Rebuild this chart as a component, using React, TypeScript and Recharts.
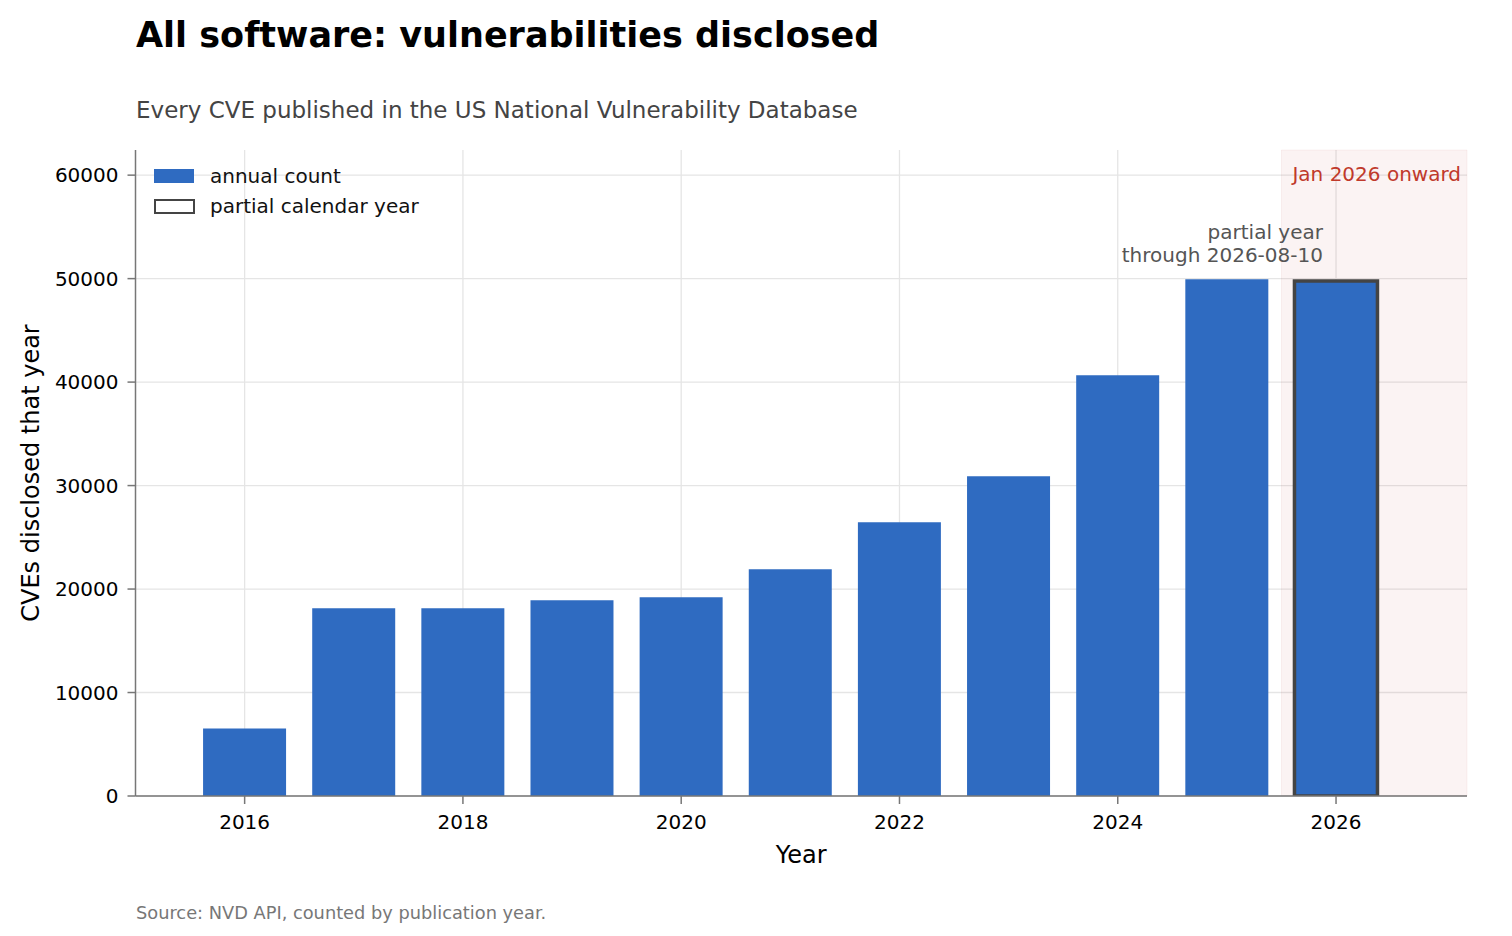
import React from "react"
import {
  BarChart,
  Bar,
  XAxis,
  YAxis,
  CartesianGrid,
  ReferenceArea,
  LabelList,
  Cell,
} from "recharts"

const FONT = "'DejaVu Sans', sans-serif"
const BLUE = "#2f6bc1"
const RED = "#c0392b"
const AXIS_GRAY = "#777777"

const YEARS = [2016, 2017, 2018, 2019, 2020, 2021, 2022, 2023, 2024, 2025, 2026]
const CVE_COUNTS = [6515, 18145, 18140, 18915, 19205, 21915, 26455, 30905, 40665, 49945, 49780]
const PARTIAL_YEAR = 2026
const PARTIAL_THROUGH = "2026-08-10"

const X_TICKS = [2016, 2018, 2020, 2022, 2024, 2026]
const Y_TICKS = [0, 10000, 20000, 30000, 40000, 50000, 60000]
const X_DOMAIN = [2015, 2027.2]
const Y_MAX = 62430
// shaded span starts half a year before the partial year
const SHADE_START = 2025.5

const LEGEND_ITEMS = [
  { label: "annual count", outline: false },
  { label: "partial calendar year", outline: true },
]

const chartData = YEARS.map((year, i) => ({
  year,
  count: CVE_COUNTS[i],
  partial: year === PARTIAL_YEAR,
}))

function LegendBox() {
  return (
    <svg width={300} height={62} style={{ fontFamily: FONT, display: "block" }}>
      {LEGEND_ITEMS.map((item, i) => (
        <g key={item.label} transform={`translate(0, ${i * 30})`}>
          {item.outline ? (
            <rect x={5} y={10} width={39} height={13} fill="#fff" stroke="#444" strokeWidth={2} />
          ) : (
            <rect x={4} y={9} width={40} height={14} fill={BLUE} />
          )}
          <text x={60} y={22.5} fontSize={20} fill="#111">
            {item.label}
          </text>
        </g>
      ))}
    </svg>
  )
}

function PartialNote(props: any) {
  const { x, y, width, index } = props
  if (!chartData[index] || !chartData[index].partial) return null
  const right = x + width / 2 - 13
  return (
    <text textAnchor="end" fontSize={20} fill="#555" fontFamily={FONT}>
      <tspan x={right} y={y - 41.8}>partial year</tspan>
      <tspan x={right} y={y - 18.5}>through {PARTIAL_THROUGH}</tspan>
    </text>
  )
}

export default function App() {
  return (
    <div
      style={{
        position: "absolute",
        left: 0,
        top: 0,
        width: 1512,
        height: 936,
        background: "#fff",
        fontFamily: FONT,
      }}
    >
      <div
        style={{
          position: "absolute",
          left: 136,
          top: 17.5,
          fontSize: 35,
          lineHeight: "35px",
          fontWeight: "bold",
          color: "#000",
          whiteSpace: "nowrap",
        }}
      >
        All software: vulnerabilities disclosed
      </div>
      <div
        style={{
          position: "absolute",
          left: 136,
          top: 98.8,
          fontSize: 23,
          lineHeight: "23px",
          color: "#444",
          whiteSpace: "nowrap",
        }}
      >
        Every CVE published in the US National Vulnerability Database
      </div>
      <div
        style={{
          position: "absolute",
          left: 136,
          top: 904.3,
          fontSize: 17.8,
          lineHeight: "17.8px",
          color: "#777",
          whiteSpace: "nowrap",
        }}
      >
        Source: NVD API, counted by publication year.
      </div>

      <div style={{ position: "absolute", left: 0, top: 0 }}>
        <BarChart
          width={1512}
          height={936}
          data={chartData}
          margin={{ top: 150, right: 45, bottom: 0, left: 0 }}
        >
          <CartesianGrid stroke="#e5e5e5" strokeWidth={1.3} syncWithTicks />
          <ReferenceArea
            x1={SHADE_START}
            x2={X_DOMAIN[1]}
            y1={0}
            y2={Y_MAX}
            fill={RED}
            fillOpacity={0.06}
            stroke={RED}
            strokeOpacity={0.06}
            label={(p: any) => {
              const vb = p.viewBox
              return (
                <text
                  x={vb.x + vb.width - 6}
                  y={vb.y + 31}
                  textAnchor="end"
                  fontSize={20}
                  fill={RED}
                  fontFamily={FONT}
                >
                  Jan 2026 onward
                </text>
              )
            }}
          />
          <XAxis
            dataKey="year"
            type="number"
            domain={X_DOMAIN}
            ticks={X_TICKS}
            interval={0}
            allowDataOverflow
            height={140}
            tickSize={8}
            tickMargin={11}
            axisLine={{ stroke: AXIS_GRAY, strokeWidth: 1.5 }}
            tickLine={{ stroke: AXIS_GRAY, strokeWidth: 1.5 }}
            tick={{ fill: "#000", fontSize: 20, fontFamily: FONT }}
            label={(p: any) => {
              const vb = p.viewBox
              return (
                <text
                  x={vb.x + vb.width / 2}
                  y={vb.y + 66.5}
                  textAnchor="middle"
                  fontSize={24}
                  fill="#000"
                  fontFamily={FONT}
                >
                  Year
                </text>
              )
            }}
          />
          <YAxis
            type="number"
            domain={[0, Y_MAX]}
            ticks={Y_TICKS}
            interval={0}
            allowDataOverflow
            width={135.5}
            tickSize={8}
            tickMargin={9}
            tickFormatter={(v: number) => String(v)}
            axisLine={{ stroke: AXIS_GRAY, strokeWidth: 1.5 }}
            tickLine={{ stroke: AXIS_GRAY, strokeWidth: 1.5 }}
            tick={{ fill: "#000", fontSize: 20, fontFamily: FONT }}
            label={(p: any) => {
              const vb = p.viewBox
              const cy = vb.y + vb.height / 2
              return (
                <text
                  x={39}
                  y={cy}
                  transform={`rotate(-90, 39, ${cy})`}
                  textAnchor="middle"
                  fontSize={24}
                  fill="#000"
                  fontFamily={FONT}
                >
                  CVEs disclosed that year
                </text>
              )
            }}
          />
          <Bar dataKey="count" barSize={83} isAnimationActive={false}>
            {chartData.map((d) => (
              <Cell
                key={d.year}
                fill={BLUE}
                stroke={d.partial ? "#444" : "none"}
                strokeWidth={d.partial ? 3.5 : 0}
              />
            ))}
            <LabelList dataKey="count" content={PartialNote} />
          </Bar>
        </BarChart>
      </div>

      <div style={{ position: "absolute", left: 150, top: 160 }}>
        <LegendBox />
      </div>
    </div>
  )
}
